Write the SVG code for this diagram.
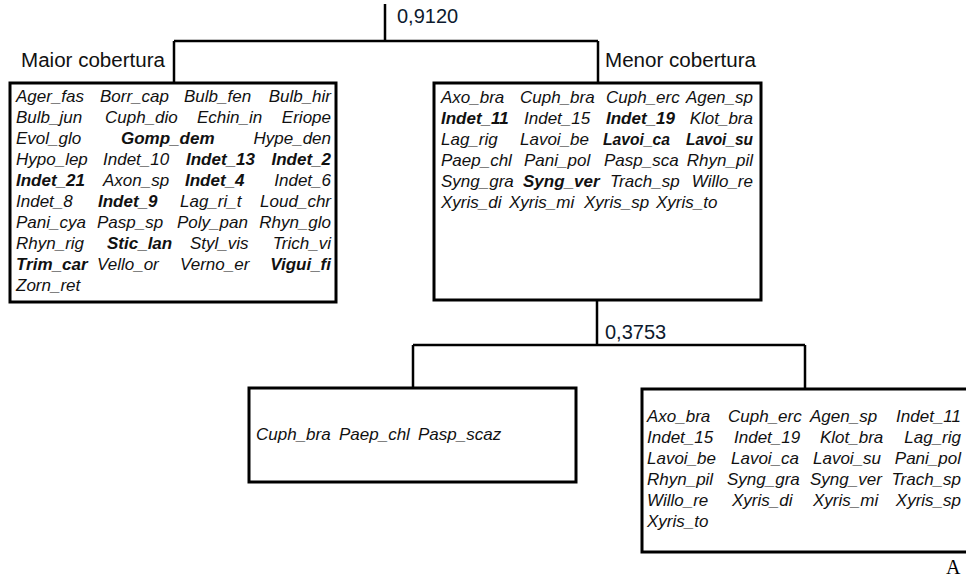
<svg xmlns="http://www.w3.org/2000/svg" width="966" height="580" viewBox="0 0 966 580">
<style>
.box{fill:#fff;stroke:#000;stroke-width:3}
.ln{fill:none;stroke:#000;stroke-width:2.5}
.sp{font-family:"Liberation Sans",Arial,sans-serif;font-style:italic;font-size:17px;fill:#111}
.b{font-weight:bold}
.e{text-anchor:end}
.lab{font-family:"Liberation Sans",Arial,sans-serif;font-size:20px;fill:#111}
.num{font-family:"Liberation Sans",Arial,sans-serif;font-size:20px;fill:#0d1a2e}
.A{font-family:"Liberation Serif","Times New Roman",serif;font-size:20px;fill:#000}
</style>
<rect width="966" height="580" fill="#fff"/>
<g id="connectors">
<path class="ln" d="M385,4 V41 M174,41 H598 M174,41 V83 M598,41 V83"/>
<path class="ln" d="M597,300 V345 M413,345 H805 M413,345 V388 M805,345 V389"/>
</g>
<g id="labels">
<text class="num" x="397" y="23">0,9120</text>
<text class="lab" x="21" y="67" textLength="144" lengthAdjust="spacingAndGlyphs">Maior cobertura</text>
<text class="lab" x="605" y="67" textLength="151" lengthAdjust="spacingAndGlyphs">Menor cobertura</text>
<text class="num" x="605" y="339">0,3753</text>
<text class="A" x="946" y="574">A</text>
</g>
<g id="maior">
<rect class="box" x="10" y="83" width="326" height="219"/>
<g class="sp">
<text x="16" y="102">Ager_fas</text><text x="100" y="102">Borr_cap</text><text x="184" y="102">Bulb_fen</text><text class="e" x="331" y="102">Bulb_hir</text>
<text x="16" y="123">Bulb_jun</text><text x="105" y="123">Cuph_dio</text><text x="197" y="123">Echin_in</text><text class="e" x="331" y="123">Eriope</text>
<text x="16" y="144">Evol_glo</text><text class="b" x="121" y="144">Gomp_dem</text><text class="e" x="331" y="144">Hype_den</text>
<text x="16" y="165">Hypo_lep</text><text x="103" y="165">Indet_10</text><text class="b" x="186" y="165">Indet_13</text><text class="b e" x="331" y="165">Indet_2</text>
<text class="b" x="16" y="186">Indet_21</text><text x="103" y="186">Axon_sp</text><text class="b" x="185" y="186">Indet_4</text><text class="e" x="331" y="186">Indet_6</text>
<text x="16" y="207">Indet_8</text><text class="b" x="98" y="207">Indet_9</text><text x="180" y="207">Lag_ri_t</text><text class="e" x="331" y="207">Loud_chr</text>
<text x="16" y="228">Pani_cya</text><text x="97" y="228">Pasp_sp</text><text x="177" y="228">Poly_pan</text><text class="e" x="331" y="228">Rhyn_glo</text>
<text x="16" y="249">Rhyn_rig</text><text class="b" x="107" y="249">Stic_lan</text><text x="190" y="249">Styl_vis</text><text class="e" x="331" y="249">Trich_vi</text>
<text class="b" x="16" y="270">Trim_car</text><text x="97" y="270">Vello_or</text><text x="180" y="270">Verno_er</text><text class="b e" x="331" y="270">Vigui_fi</text>
<text x="16" y="291">Zorn_ret</text>
</g>
</g>
<g id="menor">
<rect class="box" x="434" y="83" width="327" height="217"/>
<g class="sp">
<text x="441" y="103">Axo_bra</text><text x="520" y="103">Cuph_bra</text><text x="606" y="103">Cuph_erc</text><text class="e" x="753" y="103">Agen_sp</text>
<text class="b" x="441" y="124">Indet_11</text><text x="524" y="124">Indet_15</text><text class="b" x="606" y="124">Indet_19</text><text class="e" x="753" y="124">Klot_bra</text>
<text x="441" y="145">Lag_rig</text><text x="520" y="145">Lavoi_be</text><text class="b" x="603" y="145" textLength="67" lengthAdjust="spacingAndGlyphs">Lavoi_ca</text><text class="b" x="686" y="145" textLength="67" lengthAdjust="spacingAndGlyphs">Lavoi_su</text>
<text x="441" y="166">Paep_chl</text><text x="524" y="166">Pani_pol</text><text x="604" y="166">Pasp_sca</text><text class="e" x="753" y="166">Rhyn_pil</text>
<text x="441" y="187">Syng_gra</text><text class="b" x="523" y="187">Syng_ver</text><text x="610" y="187">Trach_sp</text><text class="e" x="753" y="187">Willo_re</text>
<text x="441" y="208">Xyris_di</text><text x="509" y="208">Xyris_mi</text><text x="584" y="208">Xyris_sp</text><text x="656" y="208">Xyris_to</text>
</g>
</g>
<g id="grupo1">
<rect class="box" x="249" y="388" width="327" height="94"/>
<g class="sp">
<text x="256" y="440">Cuph_bra</text><text x="339" y="440">Paep_chl</text><text x="418" y="440">Pasp_scaz</text>
</g>
</g>
<g id="grupo2">
<rect class="box" x="642" y="389" width="330" height="163"/>
<g class="sp">
<text x="647" y="422">Axo_bra</text><text x="728" y="422">Cuph_erc</text><text x="810" y="422">Agen_sp</text><text class="e" x="961" y="422">Indet_11</text>
<text x="647" y="443">Indet_15</text><text x="734" y="443">Indet_19</text><text x="820" y="443">Klot_bra</text><text class="e" x="961" y="443">Lag_rig</text>
<text x="647" y="464">Lavoi_be</text><text x="731" y="464">Lavoi_ca</text><text x="813" y="464">Lavoi_su</text><text class="e" x="961" y="464">Pani_pol</text>
<text x="647" y="485">Rhyn_pil</text><text x="727" y="485">Syng_gra</text><text x="810" y="485">Syng_ver</text><text class="e" x="961" y="485">Trach_sp</text>
<text x="647" y="506">Willo_re</text><text x="732" y="506">Xyris_di</text><text x="813" y="506">Xyris_mi</text><text class="e" x="961" y="506">Xyris_sp</text>
<text x="647" y="527">Xyris_to</text>
</g>
</g>
</svg>
